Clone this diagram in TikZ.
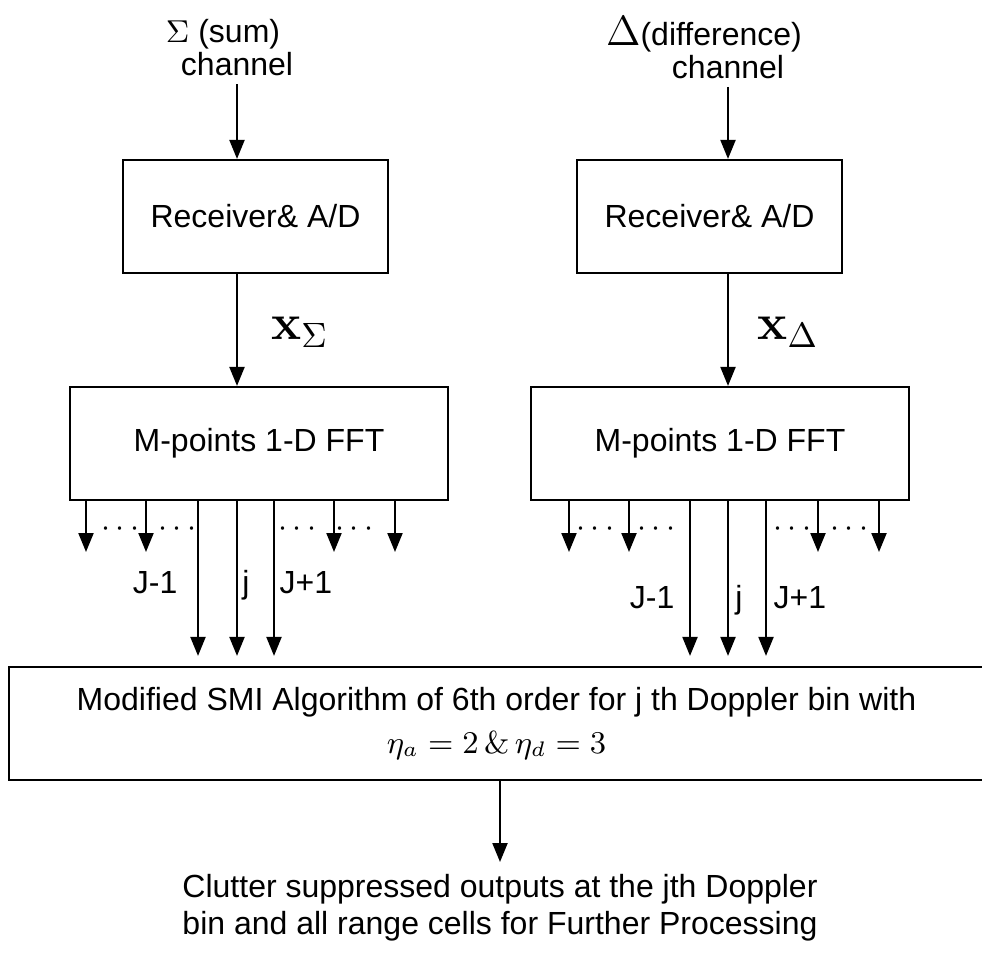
\documentclass[tikz,border=0pt]{standalone}
\usepackage{amsmath,amssymb}
\usepackage[no-math]{fontspec}
\setmainfont{Liberation Sans}
\usetikzlibrary{arrows.meta}

\begin{document}
\begin{tikzpicture}[x=0.01cm,y=-0.01cm,
    font=\fontsize{9.1}{10.6}\selectfont,
    chan/.style={align=center,inner sep=2pt,font=\fontsize{9.1}{9.4}\selectfont},
    block/.style={draw,line width=0.6pt,minimum width=2.65cm,minimum height=1.13cm},
    fftbox/.style={draw,line width=0.6pt,minimum width=3.78cm,minimum height=1.13cm},
    sig/.style={-{Triangle[length=1.9mm,width=1.5mm]},line width=0.6pt},
    bin/.style={inner sep=0pt},
    dots/.style={inner sep=0pt}]
    \useasboundingbox (0,0) rectangle (982,954);

    % input channels
    \node[chan] (sumin) at (237,48) {$\Sigma$ (sum)\hspace*{0.28cm}\\channel};
    \node[chan] (difin) at (728,48) {{\large$\Delta$}(difference)\hspace*{0.48cm}\\channel};
    \coordinate (colS) at (237,0);
    \coordinate (colD) at (728,0);

    % receivers and FFTs
    \node[block] (rxs) at (255.5,216.5) {Receiver\& A/D};
    \node[block] (rxd) at (709.5,216.5) {Receiver\& A/D};
    \node[fftbox] (ffts) at (259,443.5) {M-points 1-D FFT};
    \node[fftbox] (fftd) at (720,443.5) {M-points 1-D FFT};

    \draw[sig] (sumin.south -| colS) -- (rxs.north -| colS);
    \draw[sig] (difin.south -| colD) -- (rxd.north -| colD);
    \draw[sig] (rxs.south -| colS) -- (ffts.north -| colS);
    \draw[sig] (rxd.south -| colD) -- (fftd.north -| colD);
    \node[font=\fontsize{14}{16}\selectfont] (xs) at (300,332) {$\mathbf{x}_\Sigma$};
    \node[font=\fontsize{14}{16}\selectfont] (xd) at (788,332) {$\mathbf{x}_\Delta$};

    % SMI processor
    \node[draw,line width=0.6pt,minimum width=9.75cm,minimum height=1.13cm,
          align=center,font=\fontsize{9.1}{12}\selectfont] (smi) at (496.5,723.5)
        {Modified SMI Algorithm of 6th order for j th Doppler bin with\\
         $\eta_a = 2\,\&\,\eta_d = 3$};

    % Doppler bins, sum side
    \foreach \x [count=\i] in {86,146,334,395} {
        \coordinate (bs\i) at (\x,552);
        \draw[sig] (ffts.south -| bs\i) -- (bs\i);
    }
    \foreach \x [count=\i] in {198,237,274} {
        \coordinate (js\i) at (\x,0);
        \draw[sig,shorten >=0.1cm] (ffts.south -| js\i) -- (smi.north -| js\i);
    }
    \foreach \x [count=\i] in {123,180,300,357}
        \node[dots] (ds\i) at (\x,529) {$\cdots$};
    \node[bin,anchor=base east] (jms) at (178,593) {J-1};
    \node[bin,anchor=base] (jjs) at (246,593) {j};
    \node[bin,anchor=base west] (jps) at (279,593) {J+1};

    % Doppler bins, difference side
    \foreach \x [count=\i] in {569,629,818,879} {
        \coordinate (bd\i) at (\x,552);
        \draw[sig] (fftd.south -| bd\i) -- (bd\i);
    }
    \foreach \x [count=\i] in {690,728,766} {
        \coordinate (jd\i) at (\x,0);
        \draw[sig,shorten >=0.1cm] (fftd.south -| jd\i) -- (smi.north -| jd\i);
    }
    \foreach \x [count=\i] in {598,659,795,852}
        \node[dots] (dd\i) at (\x,529) {$\cdots$};
    \node[bin,anchor=base east] (jmd) at (675,608) {J-1};
    \node[bin,anchor=base] (jjd) at (739,608) {j};
    \node[bin,anchor=base west] (jpd) at (773,608) {J+1};

    % output
    \node[align=center] (out) at (500,908)
        {Clutter suppressed outputs at the jth Doppler\\bin and all range cells for Further Processing};
    \draw[sig] (smi.south -| out.north) -- (out.north);
\end{tikzpicture}
\end{document}
